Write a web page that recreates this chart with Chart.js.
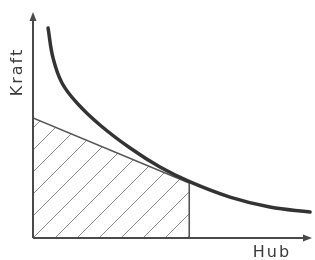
<!DOCTYPE html>
<html>
<head>
<meta charset="utf-8">
<script src="https://cdn.jsdelivr.net/npm/chart.js@4.4.1/dist/chart.umd.min.js"></script>
<style>
  html, body { margin: 0; padding: 0; background: #fff; }
  canvas { display: block; }
</style>
</head>
<body>
<canvas id="kraftHub" width="315" height="260"></canvas>
<script>
// Kraft-Hub Kennlinie (schematisch)
const kurveHub   = [0.54, 0.72, 1.04, 1.58, 2.40, 3.48, 4.55, 5.63, 7.06, 8.49, 9.93];
const kurveKraft = [9.29, 7.96, 6.86, 5.97, 5.00, 3.98, 3.14, 2.48, 1.81, 1.37, 1.15];

const flaecheHub   = [0, 5.60, 5.60];
const flaecheKraft = [5.31, 2.43, 0];

const achsenTitel = { x: "Hub", y: "Kraft" };

function schraffur() {
    const size = 22;
    const c = document.createElement("canvas");
    c.width = size;
    c.height = size;
    const g = c.getContext("2d");
    g.strokeStyle = "#8a8a8a";
    g.lineWidth = 1;
    g.beginPath();
    g.moveTo(-2, size + 2);
    g.lineTo(size + 2, -2);
    g.stroke();
    const p = g.createPattern(c, "repeat");
    p.setTransform(new DOMMatrix().translate(7, 0));
    return p;
}

const achsenPlugin = {
    id: "achsen",
    afterDatasetsDraw(chart) {
        const { ctx, scales } = chart;
        const x0 = scales.x.getPixelForValue(0);
        const x1 = scales.x.getPixelForValue(10);
        const y0 = scales.y.getPixelForValue(0);
        const y1 = scales.y.getPixelForValue(10);
        ctx.save();
        ctx.strokeStyle = "#4a4a4a";
        ctx.fillStyle = "#4a4a4a";
        ctx.lineWidth = 2;
        ctx.beginPath();
        ctx.moveTo(x0, y0);
        ctx.lineTo(x1 - 6, y0);
        ctx.moveTo(x0, y0);
        ctx.lineTo(x0, y1 + 6);
        ctx.stroke();
        // Pfeilspitzen
        ctx.beginPath();
        ctx.moveTo(x1, y0);
        ctx.lineTo(x1 - 9, y0 - 3.5);
        ctx.lineTo(x1 - 9, y0 + 3.5);
        ctx.closePath();
        ctx.fill();
        ctx.beginPath();
        ctx.moveTo(x0, y1);
        ctx.lineTo(x0 - 3.5, y1 + 9);
        ctx.lineTo(x0 + 3.5, y1 + 9);
        ctx.closePath();
        ctx.fill();

        ctx.fillStyle = "#3a3a3a";
        ctx.font = "16px 'DejaVu Sans'";
        ctx.letterSpacing = "2px";
        ctx.textAlign = "center";
        ctx.textBaseline = "middle";
        ctx.fillText(achsenTitel.x, x1 - 40, y0 + 15);
        ctx.translate(x0 - 15, y1 + 60);
        ctx.rotate(-Math.PI / 2);
        ctx.fillText(achsenTitel.y, 0, 0);
        ctx.restore();
    }
};

new Chart(document.getElementById("kraftHub"), {
    type: "line",
    data: {
        datasets: [
            {
                label: "Fläche",
                data: flaecheHub.map((h, i) => ({ x: h, y: flaecheKraft[i] })),
                borderColor: "#555",
                borderWidth: 1.6,
                backgroundColor: schraffur(),
                fill: "origin",
                pointRadius: 0,
                tension: 0,
                order: 2
            },
            {
                label: "Kennlinie",
                data: kurveHub.map((h, i) => ({ x: h, y: kurveKraft[i] })),
                borderColor: "#333",
                borderWidth: 3.5,
                fill: false,
                pointRadius: 0,
                tension: 0.4,
                borderCapStyle: "round",
                order: 1
            }
        ]
    },
    options: {
        responsive: false,
        animation: false,
        layout: { padding: { left: 33, right: 3, top: 12, bottom: 22 } },
        plugins: {
            legend: { display: false },
            tooltip: { enabled: false }
        },
        scales: {
            x: { type: "linear", min: 0, max: 10, display: false },
            y: { type: "linear", min: 0, max: 10, display: false }
        }
    },
    plugins: [achsenPlugin]
});
</script>
</body>
</html>
